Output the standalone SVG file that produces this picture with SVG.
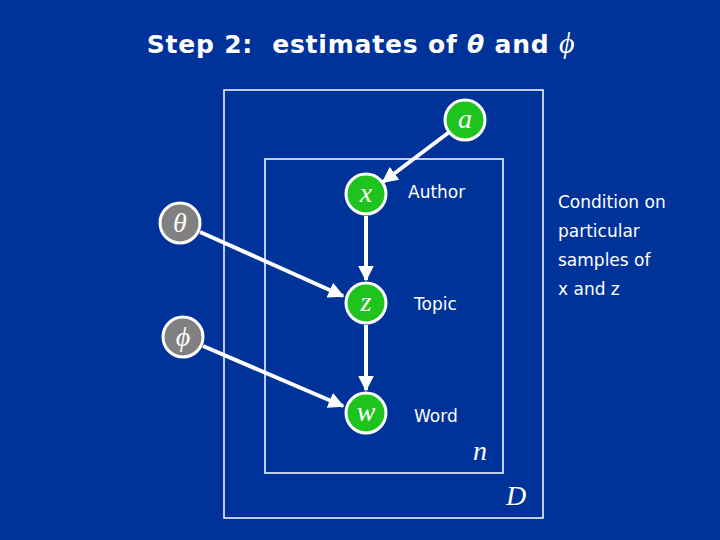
<svg xmlns="http://www.w3.org/2000/svg" width="720" height="540" viewBox="0 0 720 540">
<defs>
<style>
.g{fill:#1ec31e;stroke:#fff;stroke-width:3}
.gr{fill:#808080;stroke:#fff;stroke-width:3}
.v{font-family:"Liberation Serif",serif;font-style:italic;font-size:28px;fill:#fff;text-anchor:middle}
.l{font-family:"DejaVu Sans","Liberation Sans",sans-serif;font-size:17px;fill:#fff}
.e{stroke:#fff;stroke-width:4;fill:none;marker-end:url(#ah)}
.box{fill:none;stroke:#fff;stroke-width:1.5}
</style>
<marker id="ah" viewBox="0 0 10 10" refX="9" refY="5" markerWidth="4" markerHeight="4" orient="auto" markerUnits="strokeWidth"><path d="M0,0L10,5L0,10z" fill="#fff"/></marker>
</defs>
<rect width="720" height="540" fill="#003399"/>
<text x="361" y="53" text-anchor="middle" xml:space="preserve" font-family="DejaVu Sans,sans-serif" font-weight="bold" font-size="25" letter-spacing="0.8" fill="#fff">Step 2:  estimates of <tspan font-style="italic">θ</tspan> and <tspan font-family="Liberation Serif,serif" font-style="italic" font-weight="normal" font-size="30">ϕ</tspan></text>
<rect class="box" x="224" y="90" width="319" height="428"/>
<rect class="box" x="265" y="159" width="238" height="314"/>
<g id="edges">
<line class="e" x1="452" y1="130" x2="383" y2="182"/>
<line class="e" x1="366" y1="216" x2="366" y2="280"/>
<line class="e" x1="200" y1="232" x2="343" y2="296"/>
<line class="e" x1="366" y1="325" x2="366" y2="390"/>
<line class="e" x1="203" y1="346" x2="343" y2="406"/>
</g>
<g id="a"><circle class="g" cx="465" cy="120" r="20"/><text class="v" x="465" y="128">a</text></g>
<g id="x"><circle class="g" cx="366" cy="194" r="20"/><text class="v" x="366" y="202">x</text></g>
<g id="z"><circle class="g" cx="366" cy="303" r="20"/><text class="v" x="366" y="311">z</text></g>
<g id="w"><circle class="g" cx="366" cy="413" r="20"/><text class="v" x="366" y="421">w</text></g>
<g id="theta"><circle class="gr" cx="180" cy="223" r="20"/><text class="v" x="180" y="232">θ</text></g>
<g id="phi"><circle class="gr" cx="183" cy="337" r="20"/><text class="v" x="183" y="346">ϕ</text></g>
<text class="l" x="408" y="198">Author</text>
<text class="l" x="414" y="310">Topic</text>
<text class="l" x="414" y="422">Word</text>
<text class="v" x="480" y="460" font-size="26">n</text>
<text class="v" x="516" y="505" font-size="26">D</text>
<g class="l"><text x="558" y="208">Condition on</text><text x="558" y="237">particular</text><text x="558" y="266">samples of</text><text x="558" y="295">x and z</text></g>
</svg>
